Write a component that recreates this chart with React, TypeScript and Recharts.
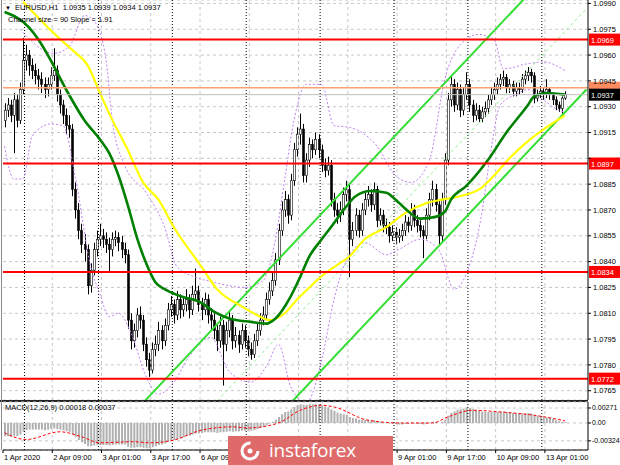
import React from 'react';
import { ComposedChart, Bar, Line, XAxis, YAxis, CartesianGrid, ReferenceLine } from 'recharts';

// EURUSD H1, 1 Apr 17:00 .. 13 Apr 07:00 (183 bars)
const openPrices = [
  1.0922, 1.0928, 1.0931, 1.0925, 1.0934, 1.0922, 1.0940, 1.0957, 1.0960, 1.0954,
  1.0951, 1.0948, 1.0946, 1.0943, 1.0940, 1.0943, 1.0948, 1.0951, 1.0937, 1.0931,
  1.0925, 1.0919, 1.0917, 1.0882, 1.0870, 1.0858, 1.0850, 1.0847, 1.0826, 1.0835,
  1.0847, 1.0853, 1.0855, 1.0853, 1.0850, 1.0847, 1.0853, 1.0854, 1.0851, 1.0847,
  1.0844, 1.0806, 1.0794, 1.0800, 1.0809, 1.0806, 1.0792, 1.0783, 1.0777, 1.0789,
  1.0792, 1.0800, 1.0794, 1.0803, 1.0812, 1.0815, 1.0809, 1.0818, 1.0812, 1.0815,
  1.0818, 1.0812, 1.0821, 1.0823, 1.0815, 1.0812, 1.0818, 1.0809, 1.0806, 1.0800,
  1.0794, 1.0803, 1.0792, 1.0800, 1.0806, 1.0794, 1.0797, 1.0792, 1.0800, 1.0794,
  1.0789, 1.0786, 1.0794, 1.0800, 1.0806, 1.0809, 1.0818, 1.0823, 1.0829, 1.0841,
  1.0858, 1.0870, 1.0876, 1.0867, 1.0887, 1.0905, 1.0914, 1.0917, 1.0890, 1.0899,
  1.0908, 1.0905, 1.0911, 1.0905, 1.0896, 1.0893, 1.0896, 1.0876, 1.0870, 1.0867,
  1.0870, 1.0879, 1.0882, 1.0853, 1.0858, 1.0867, 1.0858, 1.0870, 1.0876, 1.0879,
  1.0873, 1.0882, 1.0864, 1.0867, 1.0861, 1.0860, 1.0855, 1.0857, 1.0854, 1.0855,
  1.0858, 1.0863, 1.0861, 1.0870, 1.0864, 1.0861, 1.0858, 1.0855, 1.0867, 1.0876,
  1.0882, 1.0873, 1.0855, 1.0876, 1.0899, 1.0934, 1.0943, 1.0931, 1.0940, 1.0928,
  1.0937, 1.0943, 1.0931, 1.0925, 1.0928, 1.0923, 1.0927, 1.0929, 1.0934, 1.0937,
  1.0940, 1.0943, 1.0946, 1.0947, 1.0941, 1.0943, 1.0939, 1.0941, 1.0940, 1.0946,
  1.0948, 1.0950, 1.0948, 1.0935, 1.0937, 1.0939, 1.0937, 1.0940, 1.0937, 1.0934,
  1.0931, 1.0929, 1.0935,
];
const highPrices = [
  1.0932, 1.0935, 1.0934, 1.0938, 1.0937, 1.0944, 1.0970, 1.0966, 1.0963, 1.0958,
  1.0955, 1.0952, 1.0950, 1.0947, 1.0947, 1.0953, 1.0964, 1.0954, 1.0940, 1.0934,
  1.0929, 1.0925, 1.0920, 1.0886, 1.0874, 1.0862, 1.0856, 1.0850, 1.0839, 1.0851,
  1.0858, 1.0862, 1.0859, 1.0857, 1.0854, 1.0857, 1.0858, 1.0857, 1.0855, 1.0851,
  1.0847, 1.0810, 1.0804, 1.0813, 1.0814, 1.0809, 1.0796, 1.0787, 1.0793, 1.0797,
  1.0805, 1.0803, 1.0807, 1.0816, 1.0820, 1.0818, 1.0823, 1.0821, 1.0820, 1.0824,
  1.0821, 1.0826, 1.0836, 1.0826, 1.0819, 1.0822, 1.0821, 1.0813, 1.0810, 1.0804,
  1.0808, 1.0806, 1.0805, 1.0811, 1.0809, 1.0802, 1.0800, 1.0804, 1.0803, 1.0797,
  1.0793, 1.0798, 1.0804, 1.0810, 1.0814, 1.0822, 1.0828, 1.0834, 1.0845, 1.0862,
  1.0875, 1.0881, 1.0879, 1.0891, 1.0909, 1.0918, 1.0926, 1.0920, 1.0903, 1.0912,
  1.0911, 1.0915, 1.0914, 1.0908, 1.0900, 1.0901, 1.0899, 1.0880, 1.0874, 1.0875,
  1.0883, 1.0887, 1.0885, 1.0863, 1.0871, 1.0870, 1.0874, 1.0880, 1.0884, 1.0882,
  1.0886, 1.0884, 1.0871, 1.0870, 1.0865, 1.0863, 1.0861, 1.0860, 1.0859, 1.0862,
  1.0867, 1.0866, 1.0874, 1.0873, 1.0867, 1.0864, 1.0861, 1.0871, 1.0880, 1.0887,
  1.0885, 1.0876, 1.0880, 1.0903, 1.0938, 1.0948, 1.0946, 1.0944, 1.0943, 1.0941,
  1.0950, 1.0946, 1.0934, 1.0932, 1.0931, 1.0930, 1.0933, 1.0937, 1.0941, 1.0944,
  1.0947, 1.0949, 1.0951, 1.0949, 1.0946, 1.0945, 1.0944, 1.0944, 1.0949, 1.0951,
  1.0953, 1.0952, 1.0950, 1.0940, 1.0942, 1.0941, 1.0946, 1.0941, 1.0938, 1.0936,
  1.0933, 1.0936, 1.0939,
];
const lowPrices = [
  1.0918, 1.0924, 1.0921, 1.0903, 1.0918, 1.0920, 1.0937, 1.0951, 1.0948, 1.0946,
  1.0943, 1.0940, 1.0938, 1.0935, 1.0936, 1.0940, 1.0945, 1.0933, 1.0926, 1.0920,
  1.0914, 1.0912, 1.0878, 1.0865, 1.0853, 1.0845, 1.0840, 1.0821, 1.0822, 1.0832,
  1.0843, 1.0849, 1.0848, 1.0845, 1.0834, 1.0843, 1.0849, 1.0846, 1.0842, 1.0839,
  1.0801, 1.0789, 1.0790, 1.0796, 1.0801, 1.0788, 1.0779, 1.0773, 1.0775, 1.0785,
  1.0788, 1.0789, 1.0791, 1.0800, 1.0808, 1.0804, 1.0806, 1.0807, 1.0808, 1.0811,
  1.0807, 1.0809, 1.0817, 1.0811, 1.0806, 1.0809, 1.0804, 1.0800, 1.0795, 1.0788,
  1.0790, 1.0768, 1.0788, 1.0796, 1.0789, 1.0790, 1.0787, 1.0789, 1.0790, 1.0785,
  1.0783, 1.0784, 1.0791, 1.0797, 1.0803, 1.0806, 1.0815, 1.0820, 1.0826, 1.0838,
  1.0855, 1.0866, 1.0862, 1.0864, 1.0884, 1.0901, 1.0908, 1.0886, 1.0886, 1.0895,
  1.0900, 1.0902, 1.0900, 1.0892, 1.0889, 1.0890, 1.0872, 1.0866, 1.0862, 1.0863,
  1.0867, 1.0875, 1.0831, 1.0849, 1.0855, 1.0854, 1.0855, 1.0867, 1.0872, 1.0869,
  1.0870, 1.0860, 1.0861, 1.0857, 1.0856, 1.0851, 1.0852, 1.0850, 1.0851, 1.0852,
  1.0855, 1.0857, 1.0858, 1.0860, 1.0857, 1.0854, 1.0842, 1.0853, 1.0864, 1.0872,
  1.0869, 1.0850, 1.0852, 1.0873, 1.0896, 1.0930, 1.0927, 1.0928, 1.0924, 1.0925,
  1.0934, 1.0927, 1.0921, 1.0922, 1.0921, 1.0921, 1.0924, 1.0926, 1.0931, 1.0934,
  1.0937, 1.0940, 1.0942, 1.0938, 1.0938, 1.0936, 1.0936, 1.0937, 1.0938, 1.0943,
  1.0945, 1.0944, 1.0932, 1.0933, 1.0935, 1.0934, 1.0935, 1.0934, 1.0931, 1.0928,
  1.0927, 1.0926, 1.0934,
];
const closePrices = [
  1.0928, 1.0931, 1.0925, 1.0934, 1.0922, 1.0940, 1.0957, 1.0960, 1.0954, 1.0951,
  1.0948, 1.0946, 1.0943, 1.0940, 1.0943, 1.0948, 1.0951, 1.0937, 1.0931, 1.0925,
  1.0919, 1.0917, 1.0882, 1.0870, 1.0858, 1.0850, 1.0847, 1.0826, 1.0835, 1.0847,
  1.0853, 1.0855, 1.0853, 1.0850, 1.0847, 1.0853, 1.0854, 1.0851, 1.0847, 1.0844,
  1.0806, 1.0794, 1.0800, 1.0809, 1.0806, 1.0792, 1.0783, 1.0777, 1.0789, 1.0792,
  1.0800, 1.0794, 1.0803, 1.0812, 1.0815, 1.0809, 1.0818, 1.0812, 1.0815, 1.0818,
  1.0812, 1.0821, 1.0823, 1.0815, 1.0812, 1.0818, 1.0809, 1.0806, 1.0800, 1.0794,
  1.0803, 1.0792, 1.0800, 1.0806, 1.0794, 1.0797, 1.0792, 1.0800, 1.0794, 1.0789,
  1.0786, 1.0794, 1.0800, 1.0806, 1.0809, 1.0818, 1.0823, 1.0829, 1.0841, 1.0858,
  1.0870, 1.0876, 1.0867, 1.0887, 1.0905, 1.0914, 1.0917, 1.0890, 1.0899, 1.0908,
  1.0905, 1.0911, 1.0905, 1.0896, 1.0893, 1.0896, 1.0876, 1.0870, 1.0867, 1.0870,
  1.0879, 1.0882, 1.0853, 1.0858, 1.0867, 1.0858, 1.0870, 1.0876, 1.0879, 1.0873,
  1.0882, 1.0864, 1.0867, 1.0861, 1.0860, 1.0855, 1.0857, 1.0854, 1.0855, 1.0858,
  1.0863, 1.0861, 1.0870, 1.0864, 1.0861, 1.0858, 1.0855, 1.0867, 1.0876, 1.0882,
  1.0873, 1.0855, 1.0876, 1.0899, 1.0934, 1.0943, 1.0931, 1.0940, 1.0928, 1.0937,
  1.0943, 1.0931, 1.0925, 1.0928, 1.0923, 1.0927, 1.0929, 1.0934, 1.0937, 1.0940,
  1.0943, 1.0946, 1.0947, 1.0941, 1.0943, 1.0939, 1.0941, 1.0940, 1.0946, 1.0948,
  1.0950, 1.0948, 1.0935, 1.0937, 1.0939, 1.0937, 1.0940, 1.0937, 1.0934, 1.0931,
  1.0929, 1.0935, 1.0937,
];

// moving averages and bands: [bar index, price] read at sparse points
const fastMa = [
  [0, 1.0985], [8, 1.0976], [11, 1.0969], [15, 1.0957], [20, 1.094], [26, 1.0922], [31, 1.0911],
  [34, 1.0903], [37, 1.089], [40, 1.0873], [43, 1.0854], [46, 1.0839], [49, 1.0828], [52, 1.0824],
  [57, 1.082], [64, 1.0816], [68, 1.0811], [73, 1.0807], [80, 1.0805], [85, 1.0804], [88, 1.0807],
  [93, 1.082], [96, 1.0831], [99, 1.0843], [103, 1.0853], [106, 1.086], [111, 1.0872], [114, 1.0878],
  [119, 1.0881], [124, 1.088], [127, 1.0876], [130, 1.0871], [135, 1.0865], [140, 1.0866],
  [143, 1.0869], [145, 1.0876], [150, 1.0884], [157, 1.0899], [163, 1.0915], [170, 1.0931],
  [172, 1.0936], [176, 1.0938], [182, 1.0937],
];
const slowMa = [
  [6, 1.0991], [17, 1.0971], [22, 1.0963], [27, 1.0954], [31, 1.0938], [34, 1.0926], [40, 1.0905],
  [45, 1.0886], [50, 1.0876], [55, 1.086], [64, 1.0837], [69, 1.0824], [77, 1.0814], [82, 1.0809],
  [86, 1.0806], [91, 1.081], [95, 1.0818], [99, 1.0825], [104, 1.0833], [108, 1.0838], [112, 1.0843],
  [117, 1.0853], [124, 1.086], [130, 1.0868], [137, 1.0874], [142, 1.0876], [148, 1.0878],
  [155, 1.0883], [159, 1.089], [164, 1.09], [170, 1.091], [176, 1.0918], [182, 1.0925],
];
const bandUpper = [
  [5, 1.0975], [16, 1.0961], [21, 1.0965], [26, 1.0983], [29, 1.098], [33, 1.0957], [35, 1.0922],
  [39, 1.0896], [46, 1.088], [52, 1.086], [56, 1.0837], [62, 1.0831], [68, 1.0828], [78, 1.0825],
  [84, 1.0829], [88, 1.0853], [91, 1.0888], [94, 1.0922], [98, 1.0943], [103, 1.0943], [107, 1.0919],
  [112, 1.0918], [121, 1.0907], [127, 1.089], [132, 1.0886], [138, 1.0899], [143, 1.0946],
  [148, 1.0966], [154, 1.0972], [159, 1.0969], [162, 1.0952], [170, 1.0955], [175, 1.0956],
  [182, 1.0951],
];
const bandLower = [
  [0, 1.0907], [3, 1.0888], [6, 1.0888], [9, 1.0913], [15, 1.092], [19, 1.0919], [23, 1.0889],
  [28, 1.0837], [31, 1.0821], [34, 1.0808], [37, 1.081], [41, 1.0799], [46, 1.0773], [50, 1.0763],
  [55, 1.077], [60, 1.0785], [67, 1.0796], [73, 1.0776], [80, 1.077], [85, 1.0779], [89, 1.0792],
  [93, 1.0767], [98, 1.0758], [103, 1.0783], [107, 1.0818], [112, 1.0844], [117, 1.0851],
  [124, 1.0844], [128, 1.0847], [135, 1.0853], [141, 1.0847], [146, 1.0824], [150, 1.0833],
  [155, 1.0868], [158, 1.0905], [161, 1.0931], [166, 1.0937], [170, 1.094], [175, 1.0934],
  [180, 1.0928], [182, 1.0927],
];

// regression channel (Channel size = 90): end points of each ray
const channelUpper = [[45, 1.0758], [170, 1.0995]];
const channelMiddle = [[69, 1.0759], [189, 1.0987]];
const channelLower = [[93, 1.0758], [189, 1.094]];

// support / resistance levels and bid/ask lines
const levels = [1.0969, 1.0897, 1.0834, 1.0772];
const askPrice = 1.0941;
const bidPrice = 1.0937;

// MACD(12,26,9)
const macdHist = [
  -0.0024, -0.0024, -0.0025, -0.0023, -0.0024, -0.0021, -0.0016, -0.0013, -0.0012, -0.0012,
  -0.0012, -0.0012, -0.0012, -0.0013, -0.0012, -0.0011, -0.001, -0.0011, -0.0012, -0.0013,
  -0.0015, -0.0016, -0.0021, -0.0026, -0.0031, -0.0035, -0.0038, -0.0042, -0.0042, -0.0041,
  -0.004, -0.004, -0.004, -0.004, -0.0041, -0.004, -0.0039, -0.0039, -0.0039, -0.0039,
  -0.0043, -0.0045, -0.0045, -0.0044, -0.0044, -0.0045, -0.0046, -0.0046, -0.0044, -0.0042,
  -0.004, -0.0039, -0.0037, -0.0034, -0.0032, -0.0031, -0.0029, -0.0028, -0.0026, -0.0024,
  -0.0023, -0.0021, -0.0019, -0.0019, -0.0018, -0.0017, -0.0017, -0.0017, -0.0017, -0.0018,
  -0.0017, -0.0017, -0.0016, -0.0015, -0.0016, -0.0015, -0.0015, -0.0014, -0.0014, -0.0014,
  -0.0014, -0.0013, -0.0011, -0.0009, -0.0007, -0.0004, -0.0001, 0.0002, 0.0006, 0.0011,
  0.0016, 0.002, 0.0021, 0.0025, 0.0029, 0.0032, 0.0034, 0.0033, 0.0033, 0.0034,
  0.0034, 0.0034, 0.0033, 0.0031, 0.003, 0.0028, 0.0025, 0.0022, 0.0019, 0.0017,
  0.0016, 0.0015, 0.0011, 0.0009, 0.0008, 0.0006, 0.0006, 0.0006, 0.0006, 0.0005,
  0.0005, 0.0003, 0.0002, 0.0001, 0.0, -0.0001, -0.0002, -0.0002, -0.0003, -0.0003,
  -0.0002, -0.0002, -0.0001, -0.0001, -0.0002, -0.0002, -0.0003, -0.0002, 0.0, 0.0002,
  0.0002, 0.0, 0.0002, 0.0006, 0.0013, 0.0018, 0.0021, 0.0024, 0.0025, 0.0026,
  0.0028, 0.0027, 0.0025, 0.0024, 0.0022, 0.0021, 0.002, 0.002, 0.002, 0.002,
  0.002, 0.0021, 0.0021, 0.002, 0.0019, 0.0018, 0.0017, 0.0017, 0.0017, 0.0017,
  0.0018, 0.0017, 0.0014, 0.0013, 0.0012, 0.0011, 0.001, 0.0009, 0.0007, 0.0005,
  0.0003, 0.0002, 0.00018,
];
const macdSignal = [
  [0, -0.0018], [7, -0.003], [18, -0.0016], [25, -0.0025], [31, -0.0036], [42, -0.0034],
  [47, -0.0036], [55, -0.0031], [64, -0.0013], [74, -0.0007], [79, -0.0009], [89, 0.0],
  [96, 0.0023], [103, 0.0032], [107, 0.0029], [118, 0.0005], [129, 0.0], [139, 0.0],
  [144, 0.0011], [152, 0.0023], [161, 0.002], [172, 0.0014], [182, 0.0004],
];

const priceTicks = [
  1.0765, 1.078, 1.0795, 1.081, 1.0825, 1.084, 1.0855, 1.087, 1.0885, 1.09, 1.0915, 1.093,
  1.0945, 1.096, 1.0975, 1.099,
];
const macdTicks = [0.00271, 0, -0.00324];
const macdTickLabels = ['0.00271', '0.00', '-0.00324'];
const timeTickIdx = [0, 16, 32, 48, 64, 80, 96, 112, 128, 144, 160, 176];
const timeTickLabels = [
  '1 Apr 2020', '2 Apr 09:00', '3 Apr 01:00', '3 Apr 17:00', '6 Apr 09:00', '7 Apr 01:00',
  '7 Apr 17:00', '8 Apr 09:00', '9 Apr 01:00', '9 Apr 17:00', '10 Apr 09:00', '13 Apr 01:00',
];
const daySeparators = [7, 31, 55, 79, 103, 127, 151, 175];

const SLOTS = 190; // bars + empty shift area on the right
const FONT = '"Liberation Sans", Arial, sans-serif';
const LOGO_LEFT = 228;
const LOGO_RIGHT = 393;

const rows: any[] = Array.from({ length: SLOTS }, (_, i) => ({
  i,
  o: openPrices[i],
  h: highPrices[i],
  l: lowPrices[i],
  c: closePrices[i],
  macd: macdHist[i],
}));
const put = (pts: number[][], key: string) => {
  pts.forEach(([k, v]) => {
    rows[k][key] = v;
  });
};
put(fastMa, 'fast');
put(slowMa, 'slow');
put(bandUpper, 'bbU');
put(bandLower, 'bbL');
put(channelUpper, 'chU');
put(channelMiddle, 'chM');
put(channelLower, 'chL');
put(macdSignal, 'sig');

const Candle = (props: any) => {
  const { x, y, width, height, payload } = props;
  if (!payload || payload.o == null) return null;
  const { o, h, l, c } = payload;
  const top = Math.min(y, y + height);
  const hh = Math.abs(height);
  const k = h === l ? 0 : hh / (h - l);
  const cx = Math.round(x + width / 2) + 0.5;
  const bTop = top + (h - Math.max(o, c)) * k;
  const bBot = top + (h - Math.min(o, c)) * k;
  const bull = c >= o;
  return (
    <g>
      <line x1={cx} x2={cx} y1={top} y2={top + hh} stroke="#000" strokeWidth={1} />
      <rect
        x={cx - 1}
        y={bTop}
        width={2}
        height={Math.max(1, bBot - bTop)}
        fill={bull ? '#ffffff' : '#000000'}
        stroke="#000"
        strokeWidth={0.6}
      />
    </g>
  );
};

const PriceTag = (props: any) => {
  const { viewBox, text, bg, color } = props;
  if (!viewBox) return null;
  const x = viewBox.x + viewBox.width + 1;
  const y = viewBox.y;
  return (
    <g>
      <rect x={x} y={y - 6} width={31} height={12} fill={bg} />
      {text && (
        <text x={x + 2} y={y + 3} fontSize={7.5} fill={color} fontFamily={FONT}>
          {text}
        </text>
      )}
    </g>
  );
};

// price labels hidden under a price tag are not drawn (as on the terminal)
const PriceTick = (props: any) => {
  const { x, y, payload } = props;
  const v = payload.value as number;
  const covered = [...levels, askPrice, bidPrice].some((p) => Math.abs(p - v) < 0.00035);
  if (covered) return null;
  return (
    <text x={x} y={y} dy="0.35em" fontSize={7.5} fill="#000" fontFamily={FONT} textAnchor="start">
      {v.toFixed(4)}
    </text>
  );
};

const MacdTick = (props: any) => {
  const { x, y, payload } = props;
  const idx = macdTicks.indexOf(payload.value);
  return (
    <text x={x} y={y} dy="0.35em" fontSize={7} fill="#000" fontFamily={FONT} textAnchor="start">
      {macdTickLabels[idx] ?? ''}
    </text>
  );
};

const TimeTick = (props: any) => {
  const { x, y, payload } = props;
  const idx = timeTickIdx.indexOf(payload.value);
  if (idx < 0) return null;
  const bx = x - (payload.offset ?? 1.5);
  // labels lying fully under the watermark are not visible in the terminal shot
  const hidden = bx > LOGO_LEFT && bx < LOGO_RIGHT;
  return (
    <g>
      <line x1={bx} x2={bx} y1={y} y2={y + 3} stroke="#000" />
      {!hidden && (
        <text x={bx + 1} y={y + 10} fontSize={7.5} fill="#000" fontFamily={FONT}>
          {timeTickLabels[idx]}
        </text>
      )}
    </g>
  );
};

const smallText: React.CSSProperties = {
  position: 'absolute',
  fontFamily: FONT,
  fontSize: 7.5,
  color: '#000',
  whiteSpace: 'nowrap',
  lineHeight: '9px',
};

export default function App() {
  return (
    <div
      style={{
        position: 'absolute',
        left: 0,
        top: 0,
        width: 620,
        height: 465,
        background: '#fff',
        overflow: 'hidden',
      }}
    >
      <div style={{ position: 'absolute', left: 0, top: 0 }}>
        <ComposedChart
          width={620}
          height={400}
          data={rows}
          margin={{ top: 0, right: 0, left: 3, bottom: 0 }}
          barCategoryGap={0}
        >
          <CartesianGrid vertical={false} stroke="#c8c8c8" strokeDasharray="3 3" />
          <XAxis dataKey="i" type="category" hide />
          <YAxis
            orientation="right"
            width={32}
            domain={[1.07596, 1.0992]}
            ticks={priceTicks}
            interval={0}
            allowDataOverflow
            tick={<PriceTick />}
            tickSize={3}
            tickMargin={2}
            axisLine={{ stroke: '#000' }}
            tickLine={{ stroke: '#000' }}
          />
          {timeTickIdx.slice(1).map((t) => (
            <ReferenceLine key={'g' + t} x={t} position="start" stroke="#c8c8c8" strokeDasharray="3 3" />
          ))}
          {daySeparators.map((t) => (
            <ReferenceLine key={'d' + t} x={t} position="start" stroke="#000" strokeDasharray="1 2" />
          ))}
          <Bar
            dataKey={(d: any) => (d.l == null ? null : [d.l, d.h])}
            shape={<Candle />}
            isAnimationActive={false}
          />
          <Line dataKey="bbU" type="monotone" stroke="#c080f0" strokeDasharray="2 2" strokeWidth={1} dot={false} connectNulls isAnimationActive={false} />
          <Line dataKey="bbL" type="monotone" stroke="#c080f0" strokeDasharray="2 2" strokeWidth={1} dot={false} connectNulls isAnimationActive={false} />
          <Line dataKey="chM" type="linear" stroke="#90ee90" strokeDasharray="3 3" strokeWidth={1} dot={false} connectNulls isAnimationActive={false} />
          <Line dataKey="chU" type="linear" stroke="#33dd33" strokeWidth={2} dot={false} connectNulls isAnimationActive={false} />
          <Line dataKey="chL" type="linear" stroke="#33dd33" strokeWidth={2} dot={false} connectNulls isAnimationActive={false} />
          <Line dataKey="slow" type="monotone" stroke="#ffff00" strokeWidth={2.2} dot={false} connectNulls isAnimationActive={false} />
          <Line dataKey="fast" type="monotone" stroke="#008000" strokeWidth={2.6} dot={false} connectNulls isAnimationActive={false} />
          {levels.map((v) => (
            <ReferenceLine
              key={'l' + v}
              y={v}
              stroke="#ff0000"
              strokeWidth={2}
              label={<PriceTag text={v.toFixed(4)} bg="#ff0000" color="#fff" />}
            />
          ))}
          {/* ask tag sits almost entirely under the bid tag; only its edge shows */}
          <ReferenceLine
            y={askPrice}
            stroke="#ffa070"
            strokeWidth={1.5}
            label={<PriceTag bg="#ff8c60" color="#fff" />}
          />
          <ReferenceLine
            y={bidPrice}
            stroke="#c0c0c0"
            strokeWidth={1}
            label={<PriceTag text={bidPrice.toFixed(4)} bg="#000" color="#fff" />}
          />
        </ComposedChart>
      </div>

      <div style={{ position: 'absolute', left: 0, top: 400, width: 588, height: 2, background: '#222' }} />

      <div style={{ position: 'absolute', left: 0, top: 400 }}>
        <ComposedChart
          width={620}
          height={65}
          data={rows}
          margin={{ top: 2, right: 0, left: 3, bottom: 0 }}
          barCategoryGap={0}
        >
          <CartesianGrid vertical={false} stroke="#c8c8c8" strokeDasharray="3 3" />
          <XAxis
            dataKey="i"
            type="category"
            ticks={timeTickIdx}
            interval={0}
            height={15}
            tickSize={0}
            tickMargin={0}
            tickLine={false}
            axisLine={{ stroke: '#000' }}
            tick={<TimeTick />}
          />
          <YAxis
            orientation="right"
            width={32}
            domain={[-0.0049, 0.0038]}
            ticks={macdTicks}
            interval={0}
            allowDataOverflow
            tick={<MacdTick />}
            tickSize={3}
            tickMargin={1}
            axisLine={{ stroke: '#000' }}
            tickLine={{ stroke: '#000' }}
          />
          {timeTickIdx.slice(1).map((t) => (
            <ReferenceLine key={'g' + t} x={t} position="start" stroke="#c8c8c8" strokeDasharray="3 3" />
          ))}
          {daySeparators.map((t) => (
            <ReferenceLine key={'d' + t} x={t} position="start" stroke="#000" strokeDasharray="1 2" />
          ))}
          <Bar dataKey="macd" fill="#b0b0b0" barSize={2} isAnimationActive={false} />
          <Line dataKey="sig" type="monotone" stroke="#ff0000" strokeDasharray="3 2" strokeWidth={1} dot={false} connectNulls isAnimationActive={false} />
        </ComposedChart>
      </div>

      <div style={{ position: 'absolute', left: 1, top: 0, width: 1, height: 450, background: '#888' }} />

      <div style={{ ...smallText, left: 5, top: 3 }}>
        <span style={{ fontSize: 6 }}>▼</span>&nbsp; EURUSD,H1&nbsp; 1.0935 1.0939 1.0934 1.0937
      </div>
      <div style={{ ...smallText, left: 8, top: 15 }}>Channel size = 90 Slope = 1.91</div>
      <div style={{ ...smallText, left: 5, top: 403 }}>MACD(12,26,9) 0.00018 0.00037</div>

      <div
        style={{
          position: 'absolute',
          left: LOGO_LEFT,
          top: 436,
          width: LOGO_RIGHT - LOGO_LEFT,
          height: 29,
          background: '#de6a6a',
        }}
      >
        <svg width={30} height={29} style={{ position: 'absolute', left: 8, top: 0 }}>
          <circle cx={14} cy={15} r={8} fill="none" stroke="#fff" strokeWidth={3} strokeDasharray="38 12" />
          <circle cx={14} cy={15} r={2.5} fill="#fff" />
        </svg>
        <div
          style={{
            position: 'absolute',
            left: 41,
            top: 1,
            fontFamily: '"Open Sans", sans-serif',
            fontSize: 19,
            color: '#fff',
            lineHeight: '26px',
            letterSpacing: -0.2,
          }}
        >
          instaforex
        </div>
      </div>
    </div>
  );
}
